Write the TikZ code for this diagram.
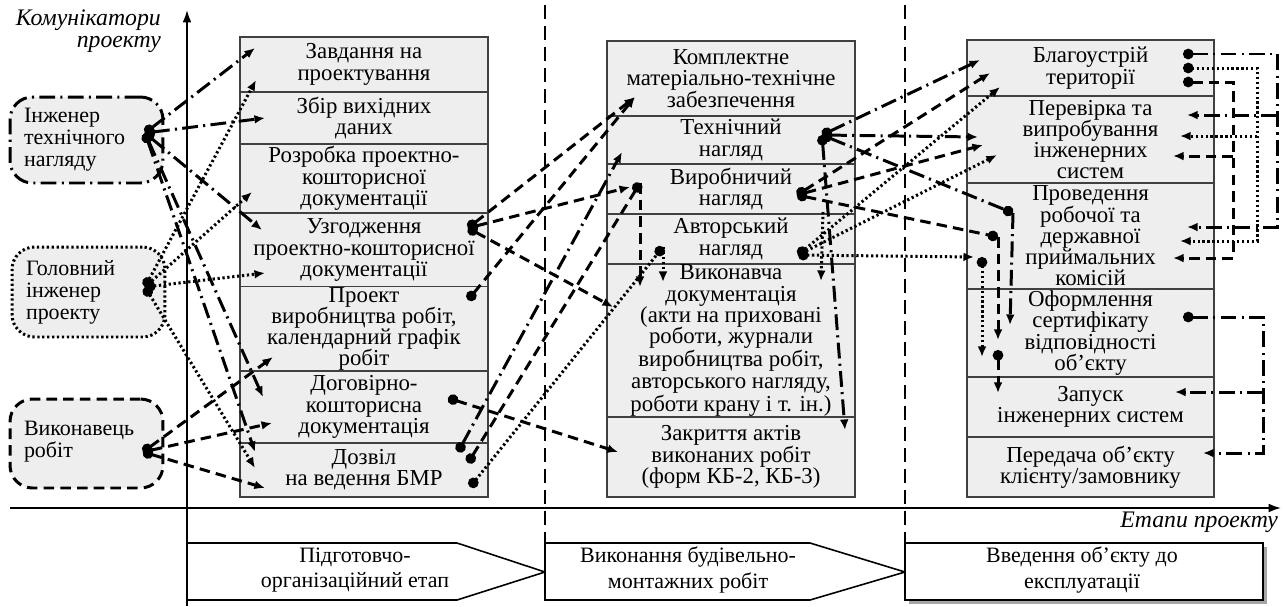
\documentclass[tikz,border=0pt]{standalone}
\usepackage{fontspec}
\setmainfont{Liberation Serif}
\usetikzlibrary{arrows.meta,shadows}
\newcommand\cellbox[6]{\node[cell, minimum width={(#4-#2)*0.02cm}, minimum height={(#5-#3)*0.02cm}] (#1) at ({(#2+#4)/2},{(#3+#5)/2}) {#6};}
\begin{document}
\begin{tikzpicture}[x=0.02cm,y=-0.02cm,
 cell/.style={draw=black!75, line width=0.7pt, fill=gray!13, align=center, inner sep=0.5pt, font=\fontsize{13}{12.1}\selectfont},
 comm/.style={fill=gray!13, rounded corners=0.45cm, line width=1.8pt, align=left, text width=2.5cm, inner xsep=0.28cm, font=\fontsize{12.5}{12.6}\selectfont},
 ttl/.style={line width=1.7pt, dash pattern=on 9pt off 3pt on 1.2pt off 3pt},
 dtl/.style={line width=1.7pt, dash pattern=on 1.3pt off 1.5pt},
 dsl/.style={line width=1.7pt, dash pattern=on 6pt off 3.5pt},
 arr/.style={-{Latex[length=6pt,width=5pt]}},
 darr/.style={{Circle[length=6pt]}-{Latex[length=6pt,width=5pt]}},
 ddot/.style={{Circle[length=6pt]}-{Circle[length=6pt]}},
 phase/.style={line width=0.9pt, fill=white},
 ptext/.style={align=center, font=\fontsize{12.5}{14.5}\selectfont},
 axis/.style={line width=1pt, -{Latex[length=7pt,width=5pt]}},
 sep/.style={line width=1.2pt, dash pattern=on 8pt off 4pt},
 axlabel/.style={font=\itshape\fontsize{13.5}{12.5}\selectfont, align=right}
]
\useasboundingbox (0,0) rectangle (1283,606);
% separators
\draw[sep] (545,5) -- (545,543);
\draw[sep] (905,5) -- (905,543);
% axes
\coordinate (ax0) at (187,606);
\coordinate (ax1) at (187,10);
\coordinate (ay0) at (10,508);
\coordinate (ay1) at (1281,508);
\draw[axis] (ax0) -- (ax1);
\draw[axis] (ay0) -- (ay1);
\node[axlabel, anchor=east] (lk) at (167,31) {Комунікатори\\проекту};
\node[axlabel, anchor=east] (le) at (1284,522) {Етапи проекту};
% phases
\draw[phase] (187,543) -- (457,543) -- (545,572) -- (457,600) -- (187,600) -- cycle;
\draw[phase] (545,543) -- (810,543) -- (905,572) -- (810,600) -- (545,600) -- cycle;
\draw[phase, drop shadow={shadow xshift=2.5pt, shadow yshift=-2.5pt, fill=gray!70, opacity=1}] (905,543) rectangle (1263,600);
\node[ptext] (ph1) at (355,570) {Підготовчо-\\організаційний етап};
\node[ptext] (ph2) at (688,570) {Виконання будівельно-\\монтажних робіт};
\node[ptext] (ph3) at (1082,570) {Введення об’єкту до\\експлуатації};
% communicators
\node[comm, draw, ttl, minimum width=3.06cm, minimum height=1.72cm] (it) at (86.5,140) {Інженер\\технічного\\нагляду};
\node[comm, draw, dtl, minimum width=3.06cm, minimum height=1.8cm] (gi) at (88.5,292) {Головний\\інженер\\проекту};
\node[comm, draw, dsl, minimum width=3.06cm, minimum height=1.78cm, text depth=0.6cm] (vr) at (86.5,443.5) {Виконавець\\робіт};
% column 1
\cellbox{z1}{240}{37}{488}{92}{Завдання на\\проектування}
\cellbox{z2}{240}{92}{488}{144}{Збір вихідних\\даних}
\cellbox{z3}{240}{144}{488}{213}{Розробка проектно-\\кошторисної\\документації}
\cellbox{z4}{240}{213}{488}{287}{Узгодження\\проектно-кошторисної\\документації}
\cellbox{z5}{240}{287}{488}{371}{Проект\\виробництва робіт,\\календарний графік\\робіт}
\cellbox{z6}{240}{371}{488}{443}{Договірно-\\кошторисна\\документація}
\cellbox{z7}{240}{443}{488}{497}{Дозвіл\\на ведення БМР}
% column 2
\cellbox{b1}{607}{41}{855}{116}{Комплектне\\матеріально-технічне\\забезпечення}
\cellbox{b2}{607}{116}{855}{164}{Технічний\\нагляд}
\cellbox{b3}{607}{164}{855}{214}{Виробничий\\нагляд}
\cellbox{b4}{607}{214}{855}{264}{Авторський\\нагляд}
\cellbox{b5}{607}{264}{855}{417}{Виконавча\\документація\\(акти на приховані\\роботи, журнали\\виробництва робіт,\\авторського нагляду,\\роботи крану і т. ін.)}
\cellbox{b6}{607}{417}{855}{497}{Закриття актів\\виконаних робіт\\(форм КБ-2, КБ-3)}
% column 3
\cellbox{c1}{967}{40}{1214}{96}{Благоустрій\\території}
\cellbox{c2}{967}{96}{1214}{183}{Перевірка та\\випробування\\інженерних\\систем}
\cellbox{c3}{967}{183}{1214}{289}{Проведення\\робочої та\\державної\\приймальних\\комісій}
\cellbox{c4}{967}{289}{1214}{377}{Оформлення\\сертифікату\\відповідності\\об’єкту}
\cellbox{c5}{967}{377}{1214}{437}{Запуск\\інженерних систем}
\cellbox{c6}{967}{437}{1214}{497}{Передача об’єкту\\клієнту/замовнику}
% ---- coordinates
\coordinate (itd) at (145,133);
\coordinate (gid) at (145,287);
\coordinate (vrd) at (143,452);
\coordinate (t1) at (255,48);
\coordinate (t2) at (265,118);
\coordinate (t3) at (262,230);
\coordinate (t4) at (263,397);
\coordinate (t5) at (255,452);
\coordinate (g1) at (256,80);
\coordinate (g2) at (252,192);
\coordinate (g3) at (265,273);
\coordinate (g4) at (255,468);
\coordinate (v1) at (273,357);
\coordinate (v2) at (272,423);
\coordinate (v3) at (265,488);
\coordinate (ud) at (468,228);
\coordinate (pd) at (468,300);
\coordinate (dgd) at (448,398);
\coordinate (dz1) at (458,452);
\coordinate (dz2) at (468,463);
\coordinate (dz3) at (470,487);
\coordinate (km) at (635,97);
\coordinate (vn) at (630,187);
\coordinate (vk) at (613,307);
\coordinate (zk) at (618,452);
\coordinate (tn) at (622,152);
\coordinate (vdt) at (640,183);
\coordinate (adt) at (663,247);
\coordinate (vk2) at (640,287);
\coordinate (vk3) at (663,282);
\coordinate (td) at (822,135);
\coordinate (tb) at (980,60);
\coordinate (tp) at (978,137);
\coordinate (tpr) at (1013,213);
\coordinate (tpr2) at (1010,325);
\coordinate (tz) at (845,430);
\coordinate (vd2) at (797,195);
\coordinate (vb) at (990,73);
\coordinate (vp) at (983,145);
\coordinate (vpr) at (998,237);
\coordinate (vo) at (998,340);
\coordinate (vo2) at (998,350);
\coordinate (vz) at (998,393);
\coordinate (ad2) at (798,255);
\coordinate (ab) at (1000,87);
\coordinate (ap) at (997,155);
\coordinate (apr) at (974,257);
\coordinate (apr2) at (982,257);
\coordinate (ao) at (982,357);
\coordinate (ax2) at (823,212);
\coordinate (ax3) at (821,281);
\coordinate (bd1) at (1183,54);
\coordinate (bd2) at (1183,68);
\coordinate (bd3) at (1183,82);
\coordinate (od) at (1183,317);
\coordinate (r1a) at (1277,54);
\coordinate (r1b) at (1277,227);
\coordinate (r1c) at (1277,115);
\coordinate (e1b) at (1187,227);
\coordinate (e1c) at (1187,115);
\coordinate (r2a) at (1257,68);
\coordinate (r2b) at (1257,241);
\coordinate (r2c) at (1257,136);
\coordinate (e2b) at (1180,241);
\coordinate (e2c) at (1180,136);
\coordinate (r3a) at (1233,82);
\coordinate (r3b) at (1233,258);
\coordinate (r3c) at (1233,156);
\coordinate (e3b) at (1173,258);
\coordinate (e3c) at (1173,156);
\coordinate (r4a) at (1263,317);
\coordinate (r4b) at (1263,453);
\coordinate (r4c) at (1263,392);
\coordinate (e4b) at (1203,453);
\coordinate (e4c) at (1175,392);
% ---- left connectors
\foreach \t in {t1,t2,t3,t4,t5} \draw[ttl,darr] (itd) -- (\t);
\foreach \t in {g1,g2,g3,g4} \draw[dtl,darr] (gid) -- (\t);
\foreach \t in {v1,v2,v3} \draw[dsl,darr] (vrd) -- (\t);
% ---- column 1 to column 2
\foreach \t in {km,vn,vk} \draw[dsl,darr] (ud) -- (\t);
\draw[dsl,darr] (pd) -- (km);
\draw[dsl,darr] (dgd) -- (zk);
\draw[ttl,darr] (dz1) -- (tn);
\draw[dsl,ddot] (dz2) -- (vdt);
\draw[dtl,ddot] (dz3) -- (adt);
\draw[dsl,arr] (vdt) -- (vk2);
\draw[dtl,arr] (adt) -- (vk3);
% ---- column 2 to column 3
\draw[ttl,darr] (td) -- (tb);
\draw[ttl,darr] (td) -- (tp);
\draw[ttl,ddot] (td) -- (tpr);
\draw[ttl,arr] (tpr) -- (tpr2);
\draw[ttl,darr] (td) -- (tz);
\draw[dtl,arr] (ax2) -- (ax3);
\draw[dsl,darr] (vd2) -- (vb);
\draw[dsl,darr] (vd2) -- (vp);
\draw[dsl,ddot] (vd2) -- (vpr);
\draw[dsl,arr] (vpr) -- (vo);
\draw[dsl,darr] (vo2) -- (vz);
\draw[dtl,darr] (ad2) -- (ab);
\draw[dtl,darr] (ad2) -- (ap);
\draw[dtl,darr] (ad2) -- (apr);
\draw[dtl,darr] (apr2) -- (ao);
% ---- right feedback
\draw[ttl,darr] (bd1) -- (r1a) -- (r1b) -- (e1b);
\draw[ttl,arr] (r1c) -- (e1c);
\draw[dtl,darr] (bd2) -- (r2a) -- (r2b) -- (e2b);
\draw[dtl,arr] (r2c) -- (e2c);
\draw[dsl,darr] (bd3) -- (r3a) -- (r3b) -- (e3b);
\draw[dsl,arr] (r3c) -- (e3c);
\draw[ttl,darr] (od) -- (r4a) -- (r4b) -- (e4b);
\draw[ttl,arr] (r4c) -- (e4c);
\end{tikzpicture}
\end{document}
